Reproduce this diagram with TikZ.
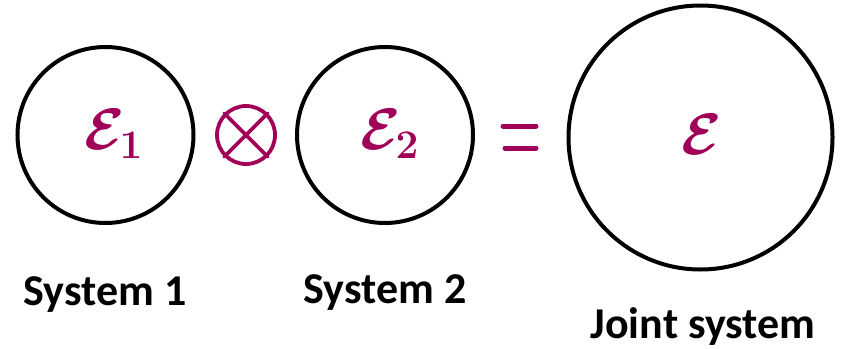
\documentclass[tikz,border=0pt]{standalone}
\usepackage{fontspec}
\setmainfont{Carlito}
\usetikzlibrary{positioning}
\definecolor{inkred}{RGB}{160,0,88}
\newcommand{\chanlabel}[1]{\scalebox{2.35}{$\mathcal{E}#1$}}
\begin{document}
\begin{tikzpicture}[x=1pt, y=-1pt,
  sysball/.style={draw, circle, line width=4pt, inner sep=0pt},
  channel/.style={text=inkred, font=\fontsize{24}{28}\selectfont\boldmath},
  syslabel/.style={font=\bfseries\fontsize{44}{50}\selectfont, anchor=base, inner sep=0pt},
  opmark/.style={draw=inkred, line width=3.8pt, line cap=round}]
\useasboundingbox (0,0) rectangle (842,348);
\node[sysball, minimum size=176pt] (s1) at (105.5,135) {};
\node[sysball, minimum size=176pt] (s2) at (385,135) {};
\node[sysball, minimum size=264pt] (sj) at (700.5,137.5) {};
\node[channel] (e1) at (114,134) {\chanlabel{_1}};
\node[channel] (e2) at (390,134) {\chanlabel{_2}};
\node[channel] (ej) at (702,134) {\chanlabel{}};
% tensor product and equals sign
\node[opmark, circle, minimum size=58pt, inner sep=0pt] (ot) at (246,135) {};
\draw[opmark] (ot.north west) -- (ot.south east);
\draw[opmark] (ot.north east) -- (ot.south west);
\coordinate (eqa) at (503,126);
\coordinate (eqb) at (536,126);
\coordinate (eqc) at (505,148);
\coordinate (eqd) at (536,148);
\draw[opmark, line width=5pt] (eqa) -- (eqb) (eqc) -- (eqd);
\node[syslabel] (l1) at (105,305) {System 1};
\node[syslabel] (l2) at (385,303) {System 2};
\node[syslabel] (lj) at (703,338) {Joint system};
\end{tikzpicture}
\end{document}
